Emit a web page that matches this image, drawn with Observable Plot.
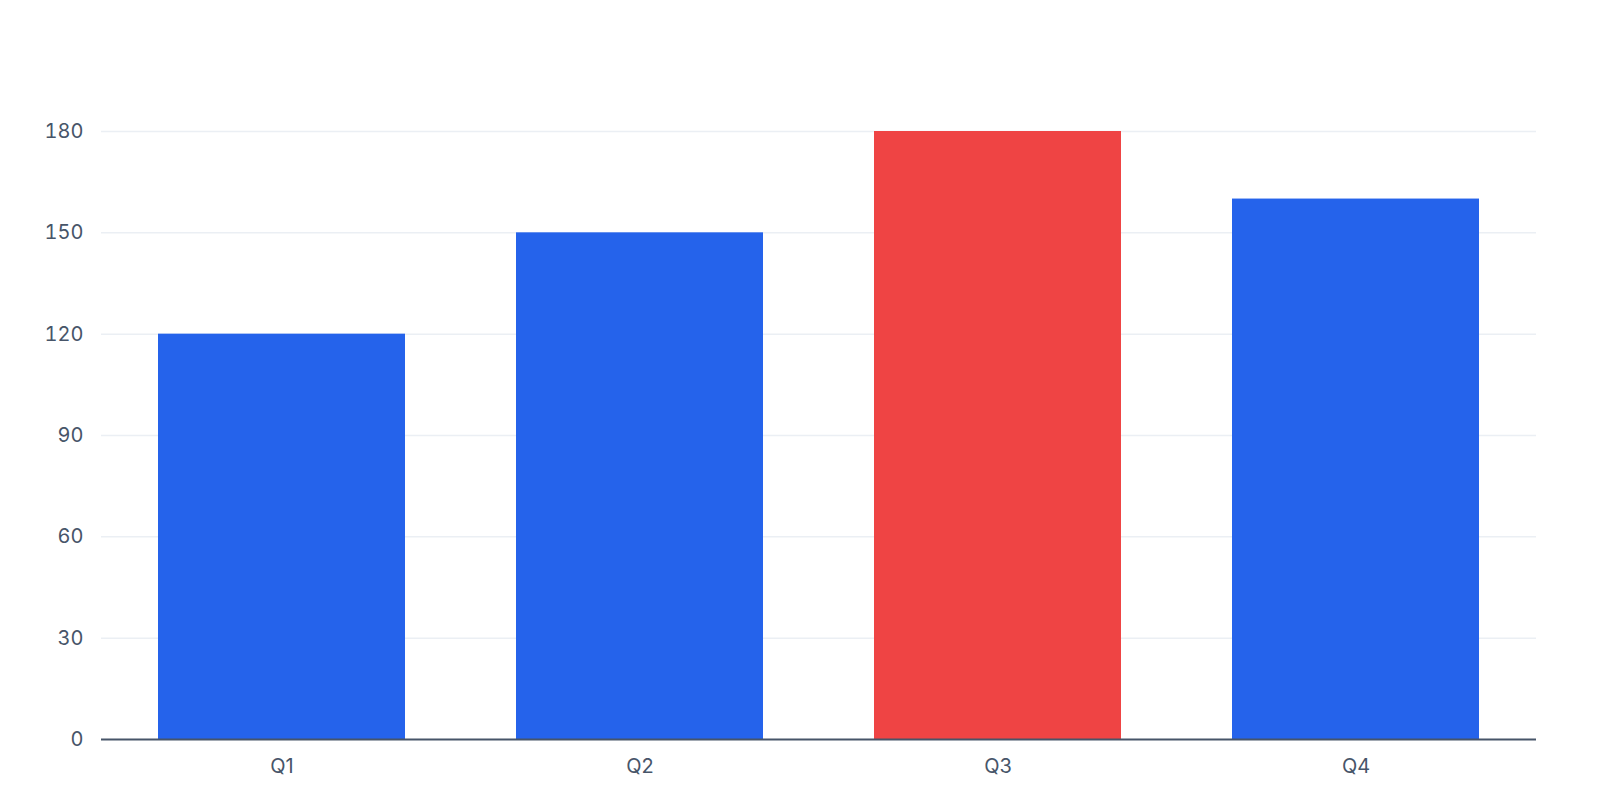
<!DOCTYPE html>
<html>
<head>
<meta charset="utf-8">
<script src="https://cdn.jsdelivr.net/npm/d3@7"></script>
<script src="https://cdn.jsdelivr.net/npm/@observablehq/plot@0.6"></script>
<style>
  html, body { margin: 0; padding: 0; background: #fff; overflow: hidden; }
  #chart { width: 1600px; height: 800px; overflow: hidden; }
  #chart svg { display: block; }
</style>
</head>
<body>
<div id="chart"></div>
<script>
const quarters = ["Q1", "Q2", "Q3", "Q4"];
const values = [120, 150, 180, 160];
const highlight = "Q3";
const yTicks = [0, 30, 60, 90, 120, 150, 180];

const data = quarters.map((q, i) => ({ quarter: q, value: values[i] }));

const chart = Plot.plot({
  width: 1600,
  height: 800,
  marginLeft: 101,
  marginRight: 64,
  marginTop: 131,
  marginBottom: 61,
  style: { fontFamily: "Inter, sans-serif", fontSize: "20px", color: "#475569", background: "#fff" },
  x: { domain: quarters, paddingInner: 0.31, paddingOuter: 0.155, label: null, tickSize: 0, tickPadding: 19 },
  y: { domain: [0, 180], ticks: yTicks, label: null, tickSize: 0, tickPadding: 18 },
  marks: [
    Plot.gridY(yTicks.filter(t => t > 0), { stroke: "#e2e8f0", strokeOpacity: 0.7, strokeWidth: 1.5 }),
    Plot.barY(data, { x: "quarter", y: "value", fill: d => d.quarter === highlight ? "#ef4444" : "#2563eb" }),
    Plot.ruleY([0], { stroke: "#475569", strokeWidth: 2 })
  ]
});
document.getElementById("chart").appendChild(chart);
</script>
</body>
</html>
